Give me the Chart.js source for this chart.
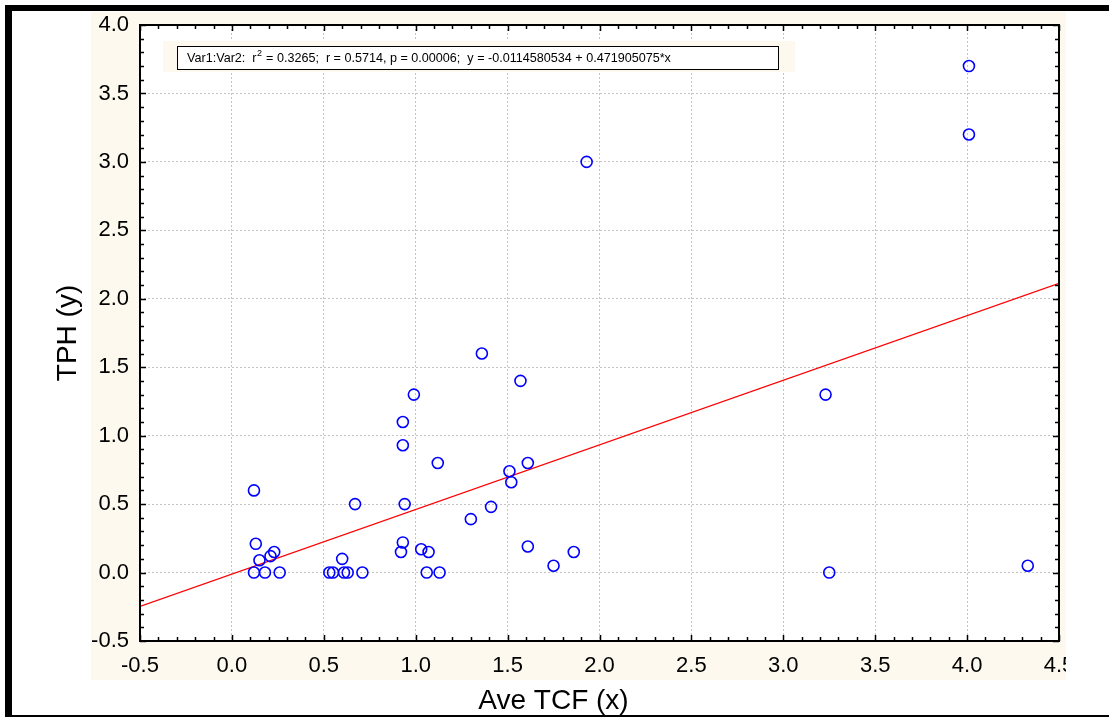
<!DOCTYPE html>
<html>
<head>
<meta charset="utf-8">
<script src="https://cdn.jsdelivr.net/npm/chart.js@4.4.0/dist/chart.umd.min.js"></script>
<style>
  body { margin: 0; background: #fff; }
  #wrap { width: 1109px; height: 717px; }
</style>
</head>
<body>
<div id="wrap"><canvas id="chart" width="1109" height="717"></canvas></div>
<script>
// Ave TCF (x) and TPH (y)
const tcf = [0.12, 0.13, 0.12, 0.15, 0.18, 0.21, 0.23, 0.26,
  0.53, 0.55, 0.60, 0.61, 0.63, 0.67, 0.71,
  0.93, 0.93, 0.99, 0.94, 0.92, 0.93, 1.03, 1.07, 1.06, 1.12, 1.13,
  1.30, 1.36, 1.41, 1.51, 1.52, 1.57, 1.61, 1.61, 1.75, 1.86, 1.93,
  3.23, 3.25, 4.01, 4.01, 4.33];
const tph = [0.60, 0.21, 0.00, 0.09, 0.00, 0.12, 0.15, 0.00,
  0.00, 0.00, 0.10, 0.00, 0.00, 0.50, 0.00,
  1.10, 0.93, 1.30, 0.50, 0.15, 0.22, 0.17, 0.15, 0.00, 0.80, 0.00,
  0.39, 1.60, 0.48, 0.74, 0.66, 1.40, 0.80, 0.19, 0.05, 0.15, 3.00,
  1.30, 0.00, 3.70, 3.20, 0.05];

// fit printed in the box
const intercept = -0.0114580534;
const slope = 0.471905075;
const r2 = '0.3265';
const rVal = '0.5714';
const pVal = '0.00006';

const xRange = [-0.5, 4.5];
const yRange = [-0.5, 4.0];

const points = tcf.map((x, i) => ({ x: x, y: tph[i] }));
const fitLine = xRange.map(x => ({ x: x, y: intercept + slope * x }));

const isMajor = v => Math.abs(v * 2 - Math.round(v * 2)) < 1e-6;
const FONT = '"Liberation Sans", Arial, sans-serif';

const decor = {
  id: 'decor',
  beforeDraw(chart) {
    const c = chart.ctx;
    const a = chart.chartArea;
    c.save();
    c.fillStyle = '#fff';
    c.fillRect(0, 0, chart.width, chart.height);
    // cream panel behind axes
    c.fillStyle = '#fdf9ef';
    c.fillRect(91, 12, 975, 668);
    c.fillStyle = '#fff';
    c.fillRect(a.left, a.top, a.right - a.left, a.bottom - a.top);
    // black frame pieces of the page
    c.fillStyle = '#000';
    c.fillRect(5, 5, chart.width - 5, 6);
    c.fillRect(5, 5, 7, chart.height - 5);
    c.fillRect(5, 715, chart.width - 5, 2);
    c.restore();
  },
  afterDraw(chart) {
    const c = chart.ctx;
    const a = chart.chartArea;
    const xs = chart.scales.x, ys = chart.scales.y;
    c.save();
    // clipped right edge
    c.fillStyle = '#fff';
    c.fillRect(1066, 11, chart.width - 1066, 704);

    // frame
    c.strokeStyle = '#000';
    c.lineWidth = 2;
    c.strokeRect(a.left, a.top, a.right - a.left, a.bottom - a.top);

    // inward ticks on all four sides
    c.lineWidth = 1.5;
    c.beginPath();
    xs.ticks.forEach(t => {
      const px = Math.round(xs.getPixelForValue(t.value)) + 0.5;
      const len = isMajor(t.value) ? 6 : 4;
      c.moveTo(px, a.bottom); c.lineTo(px, a.bottom - len);
      c.moveTo(px, a.top); c.lineTo(px, a.top + len);
    });
    ys.ticks.forEach(t => {
      const py = Math.round(ys.getPixelForValue(t.value)) + 0.5;
      const len = isMajor(t.value) ? 6 : 4;
      c.moveTo(a.left, py); c.lineTo(a.left + len, py);
      c.moveTo(a.right, py); c.lineTo(a.right - len, py);
    });
    c.stroke();

    // axis titles
    c.fillStyle = '#000';
    c.font = '28px ' + FONT;
    c.textAlign = 'center';
    c.textBaseline = 'alphabetic';
    c.fillText('Ave TCF (x)', (a.left + a.right) / 2 - 46, 709);
    c.save();
    c.translate(76, (a.top + a.bottom) / 2);
    c.rotate(-Math.PI / 2);
    c.fillText('TPH (y)', 0, 0);
    c.restore();

    // stats box
    const bx = 177, by = 46, bw = 601, bh = 23;
    c.fillStyle = '#fdf9ef';
    c.fillRect(163, 41, 632, 31);
    c.fillStyle = '#fff';
    c.fillRect(bx, by, bw, bh);
    c.strokeStyle = '#000';
    c.lineWidth = 1;
    c.strokeRect(bx + 0.5, by + 0.5, bw, bh);
    c.fillStyle = '#000';
    c.textAlign = 'left';
    c.textBaseline = 'alphabetic';
    c.font = '12.6px ' + FONT;
    let tx = 187;
    const ty = 62;
    const part1 = 'Var1:Var2:  r';
    c.fillText(part1, tx, ty);
    tx += c.measureText(part1).width;
    c.font = '9px ' + FONT;
    c.fillText('2', tx + 0.5, ty - 6);
    tx += c.measureText('2').width + 1;
    c.font = '12.6px ' + FONT;
    c.fillText(' = ' + r2 + ';  r = ' + rVal + ', p = ' + pVal + ';  y = ' + intercept + ' + ' + slope + '*x', tx, ty);
    c.restore();
  }
};

new Chart(document.getElementById('chart'), {
  type: 'scatter',
  data: {
    datasets: [
      {
        type: 'line',
        data: fitLine,
        borderColor: '#ff0000',
        borderWidth: 1.3,
        pointRadius: 0,
        fill: false,
        order: 2,
      },
      {
        data: points,
        borderColor: '#0000ff',
        backgroundColor: 'rgba(0,0,0,0)',
        borderWidth: 1.6,
        pointRadius: 5.5,
        order: 1,
      },
    ],
  },
  options: {
    responsive: false,
    animation: false,
    devicePixelRatio: 1,
    layout: { padding: { left: 0, top: 25, right: 50, bottom: 0 } },
    plugins: { legend: { display: false }, tooltip: { enabled: false } },
    scales: {
      x: {
        type: 'linear',
        min: xRange[0],
        max: xRange[1],
        afterFit: s => { s.height = 76; },
        border: { display: false, dash: [2, 2] },
        grid: {
          drawTicks: false,
          color: ctx => isMajor(ctx.tick.value) ? '#c4c4c4' : 'rgba(0,0,0,0)',
        },
        ticks: {
          stepSize: 0.1,
          autoSkip: false,
          maxRotation: 0,
          padding: 12,
          color: '#000',
          font: { family: FONT, size: 22 },
          callback: v => isMajor(v) ? v.toFixed(1) : '',
        },
      },
      y: {
        type: 'linear',
        min: yRange[0],
        max: yRange[1],
        afterFit: s => { s.width = 140; },
        border: { display: false, dash: [2, 2] },
        grid: {
          drawTicks: false,
          color: ctx => isMajor(ctx.tick.value) ? '#c4c4c4' : 'rgba(0,0,0,0)',
        },
        ticks: {
          stepSize: 0.1,
          autoSkip: false,
          padding: 11,
          color: '#000',
          font: { family: FONT, size: 22 },
          callback: v => isMajor(v) ? v.toFixed(1) : '',
        },
      },
    },
  },
  plugins: [decor],
});
</script>
</body>
</html>
